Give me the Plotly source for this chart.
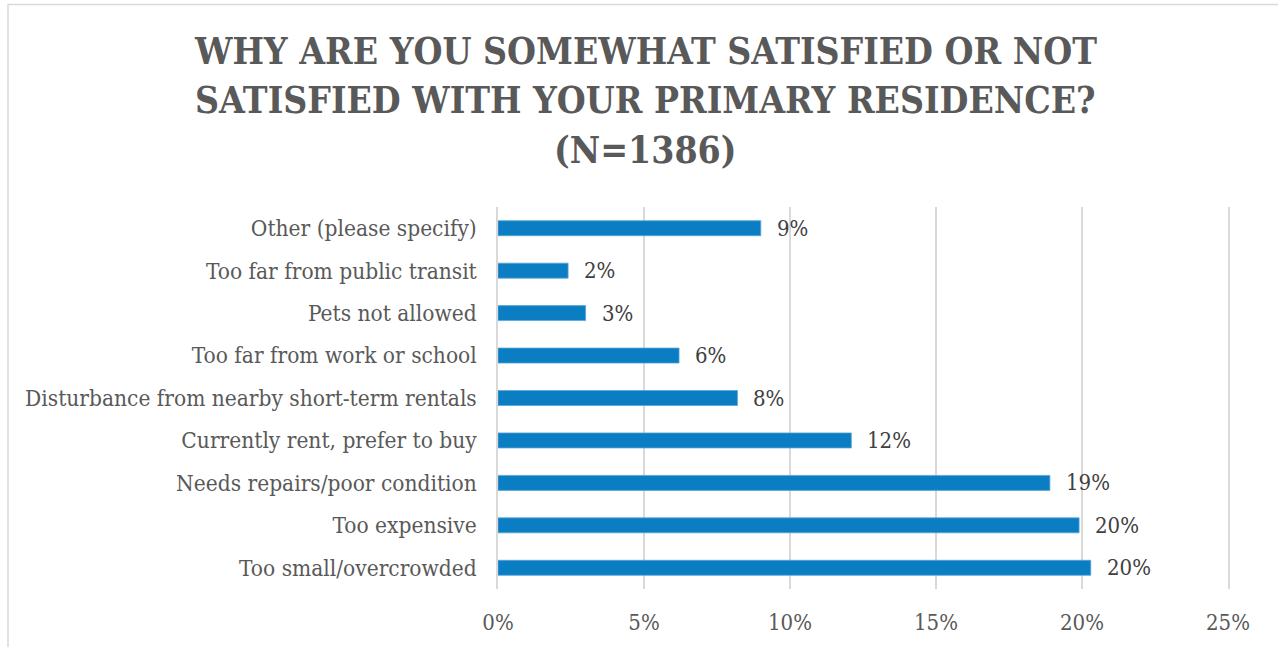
import plotly.graph_objects as go

# Survey reasons, listed bottom to top as drawn
reasons = [
    "Too small/overcrowded",
    "Too expensive",
    "Needs repairs/poor condition",
    "Currently rent, prefer to buy",
    "Disturbance from nearby short-term rentals",
    "Too far from work or school",
    "Pets not allowed",
    "Too far from public transit",
    "Other (please specify)",
]
shares = [0.203, 0.199, 0.189, 0.121, 0.082, 0.062, 0.030, 0.024, 0.090]

x_ticks = [0, 0.05, 0.10, 0.15, 0.20, 0.25]
x_tick_text = ["0%", "5%", "10%", "15%", "20%", "25%"]

title_lines = [
    "WHY ARE YOU SOMEWHAT SATISFIED OR NOT",
    "SATISFIED WITH YOUR PRIMARY RESIDENCE?",
    "(N=1386)",
]

W, H = 1278, 647
ML, MR, MT, MB = 498, 50, 207, 58
PW, PH = W - ML - MR, H - MT - MB

SERIF = "DejaVu Serif Condensed, DejaVu Serif, serif"
GRID = "#D9D9D9"

fig = go.Figure(
    go.Bar(
        x=shares,
        y=reasons,
        orientation="h",
        width=0.353,
        marker=dict(color="#0B7DC3", line=dict(color="#5AA5D6", width=0.8)),
        hoverinfo="skip",
    )
)

# Percentage labels just past each bar end
for r, v in zip(reasons, shares):
    fig.add_annotation(
        x=v, y=r, xref="x", yref="y",
        text=f"{v:.0%}", showarrow=False,
        xanchor="left", yanchor="middle", xshift=14,
        font=dict(family=SERIF, size=22, color="#404040"),
    )

# Chart title, one annotation line each
title_y = [51, 100, 150]
for line, ypx in zip(title_lines, title_y):
    fig.add_annotation(
        x=(645 - ML) / PW, y=1 + (MT - ypx) / PH, xref="paper", yref="paper",
        text=f"<b>{line}</b>", showarrow=False,
        xanchor="center", yanchor="middle",
        font=dict(family=SERIF, size=37, color="#595959"),
    )

# Light frame around the chart
fig.add_shape(
    type="rect", xref="paper", yref="paper",
    x0=(8 - ML) / PW, x1=(1300 - ML) / PW,
    y0=(MT + PH - 670) / PH, y1=1 + (MT - 4.5) / PH,
    line=dict(color=GRID, width=1.5), fillcolor="rgba(0,0,0,0)",
    layer="below",
)

fig.update_layout(
    width=W, height=H,
    margin=dict(l=ML, r=MR, t=MT, b=MB, autoexpand=False),
    paper_bgcolor="white", plot_bgcolor="white",
    showlegend=False,
    bargap=0.647,
    xaxis=dict(
        range=[0, 0.25], tickvals=x_ticks, ticktext=x_tick_text,
        showgrid=True, gridcolor=GRID, gridwidth=1.5,
        zeroline=False, showline=False, ticks="",
        ticklabelstandoff=18,
        tickfont=dict(family=SERIF, size=22, color="#595959"),
        fixedrange=True,
    ),
    yaxis=dict(
        categoryorder="array", categoryarray=reasons,
        showgrid=False, zeroline=False,
        showline=True, mirror=True, linecolor=GRID, linewidth=1.5,
        ticks="",
        ticklabelstandoff=15,
        tickfont=dict(family=SERIF, size=22.5, color="#595959"),
        fixedrange=True,
    ),
)

fig.write_html("out.html")
